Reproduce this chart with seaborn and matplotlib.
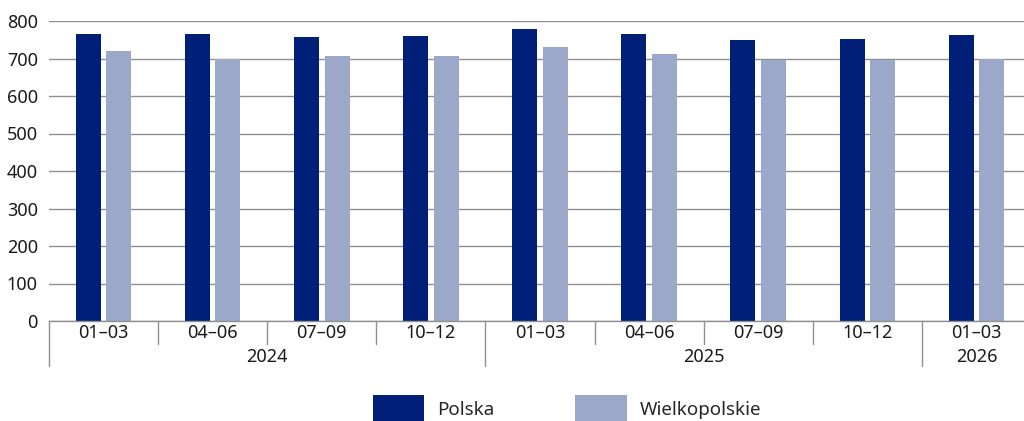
import matplotlib
matplotlib.use("Agg")
import matplotlib.pyplot as plt
import matplotlib.transforms as mtransforms
import seaborn as sns
import pandas as pd

quarters = ["01–03", "04–06", "07–09", "10–12", "01–03", "04–06", "07–09", "10–12", "01–03"]
years = ["2024", "2025", "2026"]
year_spans = [(0, 3), (4, 7), (8, 8)]
polska = [765, 765, 757, 760, 780, 765, 749, 751, 762]
wielkopolskie = [719, 699, 707, 707, 730, 711, 695, 697, 699]
series_names = ["Polska", "Wielkopolskie"]
colors = ["#001F78", "#9BA8CA"]

keys = [f"p{i}" for i in range(len(quarters))]
df = pd.DataFrame({
    "key": keys * 2,
    "value": polska + wielkopolskie,
    "series": [series_names[0]] * len(keys) + [series_names[1]] * len(keys),
})

sns.set_theme(style="white")
plt.rcParams["font.family"] = ["Noto Sans", "DejaVu Sans"]

W, H = 1024, 421
fs = 13
fig = plt.figure(figsize=(W / 100, H / 100), dpi=100)
ax = fig.add_axes([49 / W, 100 / H, 982 / W, 300 / H])

sns.barplot(data=df, x="key", y="value", hue="series", order=keys,
            hue_order=series_names, palette=colors, width=0.56, gap=0.18,
            dodge=True, saturation=1, ax=ax, legend=True, linewidth=0)

ax.set_xlim(-0.5, len(keys) - 0.5)
ax.set_ylim(0, 800)
ax.set_yticks(range(0, 801, 100))
ax.yaxis.grid(True, color="#8f8f8f", linewidth=1)
ax.set_axisbelow(True)
for s in ["left", "right", "top"]:
    ax.spines[s].set_visible(False)
ax.spines["bottom"].set_color("#8f8f8f")
ax.spines["bottom"].set_linewidth(1)
ax.set_xlabel("")
ax.set_ylabel("")
ax.set_xticks(range(len(keys)))
ax.set_xticklabels(quarters, fontsize=fs, color="#1a1a1a")
ax.tick_params(axis="x", length=0, pad=2)
ax.tick_params(axis="y", length=0, pad=8, labelsize=fs, labelcolor="#1a1a1a")

trans = mtransforms.blended_transform_factory(ax.transData, ax.transAxes)
year_bounds = {s for s, e in year_spans}
for i in range(len(keys)):
    xb = i - 0.5
    low = -0.15 if i in year_bounds else -0.077
    ax.plot([xb, xb], [0, low], transform=trans, color="#8f8f8f",
            linewidth=1, clip_on=False)

for y, (s, e) in zip(years, year_spans):
    ax.text((s + e) / 2, -0.12, y, transform=trans, ha="center", va="center",
            fontsize=fs, color="#1a1a1a")

ax.legend_.remove()
handles, labels = ax.get_legend_handles_labels()
fig.legend(handles, labels, loc="center", bbox_to_anchor=(567 / W, 12 / H),
           ncol=2, frameon=False, fontsize=13.5, handlelength=2.75,
           handleheight=1.9, handletextpad=0.7, columnspacing=4.3)

fig.savefig("out.png", dpi=100)
